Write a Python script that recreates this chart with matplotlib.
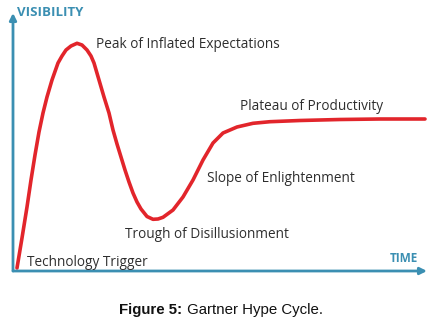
import matplotlib
matplotlib.use('Agg')
import matplotlib.pyplot as plt

# Hype cycle curve (arbitrary time / visibility units)
time = [4, 9, 14, 18, 22, 26, 30, 34, 39, 45, 49, 53, 58, 64, 69, 74, 78, 81,
        86, 91, 96, 100, 104, 108, 112, 116, 120, 124, 128, 134, 140, 145, 150,
        160, 170, 180, 190, 200, 210, 224, 240, 257, 287, 327, 367, 412]
visibility = [3, 33, 64, 91, 116, 139, 158, 174, 191, 208, 215, 221, 225, 227.7,
              226, 221, 215, 208, 191, 174, 158, 141, 127, 114, 101, 89, 78, 69,
              62, 54.5, 51.7, 52, 53.7, 61, 74, 91, 111, 128, 138, 144, 147.7,
              149.3, 150.5, 151.5, 152, 152]

phase_labels = ['Peak of Inflated Expectations', 'Plateau of Productivity',
                'Slope of Enlightenment', 'Trough of Disillusionment',
                'Technology Trigger']
label_t = [83, 227, 194, 112, 14]
label_v = [226, 164, 93, 36, 9]

axis_col = '#3b8fb2'
fig = plt.figure(figsize=(4.42, 3.26), dpi=100)
ax = fig.add_axes([13 / 442, 55 / 326, 414 / 442, 258 / 326])
ax.set_xlim(0, 414)
ax.set_ylim(0, 258)
ax.axis('off')

ax.plot(time, visibility, color='#e2252b', lw=2.6, solid_joinstyle='round',
        solid_capstyle='round', clip_on=False)

# axes arrows
ax.annotate('', xy=(0, 1), xytext=(0, 0), xycoords='axes fraction',
            arrowprops=dict(arrowstyle='-|>', color=axis_col, lw=2,
                            mutation_scale=10, shrinkA=0, shrinkB=0))
ax.annotate('', xy=(1, 0), xytext=(0, 0), xycoords='axes fraction',
            arrowprops=dict(arrowstyle='-|>', color=axis_col, lw=2,
                            mutation_scale=10, shrinkA=0, shrinkB=0))

ax.text(4, 259, 'VISIBILITY', color=axis_col, fontsize=9.5,
        fontweight='bold', family='Open Sans', ha='left', va='center')
ax.text(405, 13, 'TIME', color=axis_col, fontsize=8.5,
        fontweight='bold', family='Open Sans', ha='right', va='center')

for lab, t, v in zip(phase_labels, label_t, label_v):
    ax.text(t, v, lab, color='#2e2e2e', fontsize=9.8, family='Open Sans',
            ha='left', va='center')

# caption: bold "Figure 5:" followed by plain text, centred together
cap_y = 16 / 326
t1 = fig.text(0, cap_y, 'Figure 5:', fontsize=10.8, fontweight='bold',
              family='Liberation Sans', color='#111111', va='center')
t2 = fig.text(0, cap_y, ' Gartner Hype Cycle.', fontsize=10.8,
              family='Liberation Sans', color='#111111', va='center')
fig.canvas.draw()
r = fig.canvas.get_renderer()
w1 = t1.get_window_extent(r).width
w2 = t2.get_window_extent(r).width
x0 = (fig.bbox.width - w1 - w2) / 2
t1.set_x(x0 / fig.bbox.width)
t2.set_x((x0 + w1) / fig.bbox.width)

fig.savefig('out.png', dpi=100)
